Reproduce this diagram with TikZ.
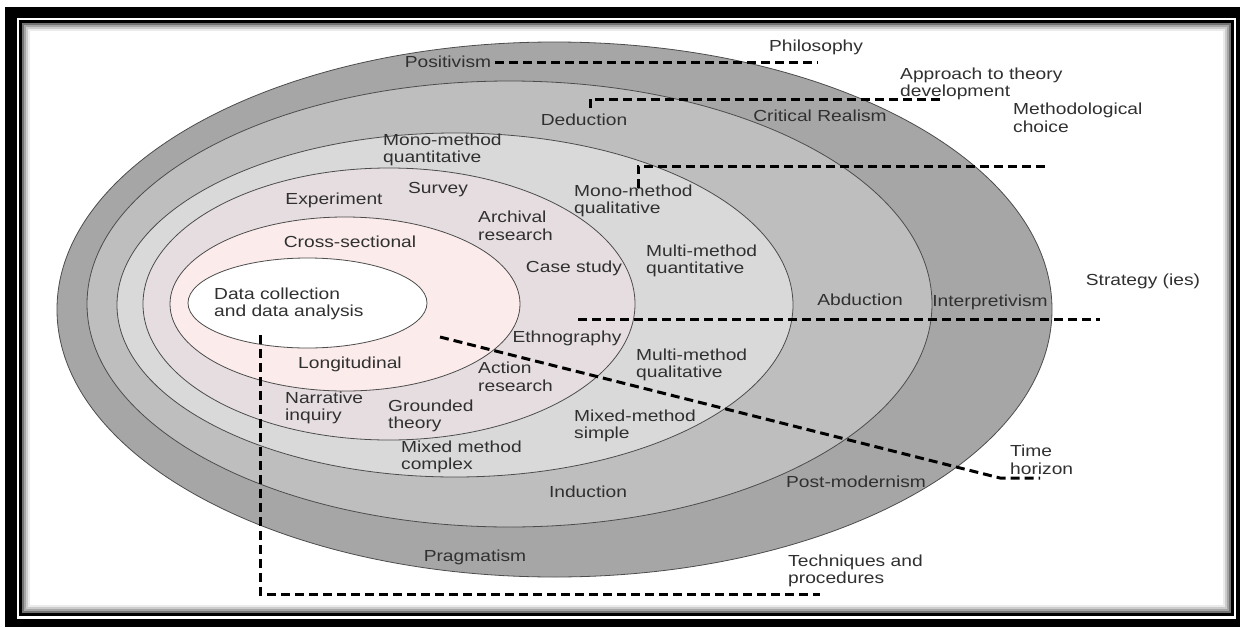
\documentclass[tikz,border=0pt]{standalone}
\usepackage{fontspec}
\setmainfont{Liberation Sans}[FakeStretch=1.2]
\usetikzlibrary{positioning}
\definecolor{philo}{HTML}{A6A6A6}
\definecolor{approach}{HTML}{BEBEBE}
\definecolor{choice}{HTML}{D9D9D9}
\definecolor{strat}{HTML}{E6DDE0}
\definecolor{horizon}{HTML}{FBEBEB}
\definecolor{txt}{HTML}{303030}

\begin{document}
\begin{tikzpicture}[x=1pt, y=-1pt,
    layer/.style={draw=black!70, line width=0.8pt},
    lbl/.style={font=\fontsize{16}{17.5}\selectfont, text=txt, inner sep=0pt, align=left},
    guide/.style={line width=3pt, dash pattern=on 9pt off 5pt}]

  \useasboundingbox (0,0) rectangle (1240,627);

  % frame
  \fill[black] (5,7) rectangle (1240,627);
  \fill[white] (17,18) rectangle (1236,619);
  \foreach \k/\c in {3/8, 2/20, 1/35, 0/55}
    \draw[black!\c, line width=2pt] (23+2*\k,24+2*\k) rectangle (1230-2*\k,612-2*\k);
  \draw[black, line width=3pt] (20.5,21.5) rectangle (1232.5,614.5);

  % onion layers
  \draw[layer, fill=philo]    (554.5,309.5) ellipse [x radius=497.5, y radius=267.5];
  \draw[layer, fill=approach] (509.5,304)   ellipse [x radius=422.5, y radius=223];
  \draw[layer, fill=choice]   (455,305)     ellipse [x radius=338,   y radius=172];
  \draw[layer, fill=strat]    (389,304)     ellipse [x radius=246,   y radius=136];
  \draw[layer, fill=horizon]  (345,304)     ellipse [x radius=175,   y radius=87];
  \draw[layer, fill=white]    (307.5,303)   ellipse [x radius=119.5, y radius=45];

  % labels
  \node[lbl] (positivism) at (448,62) {Positivism};
  \node[lbl] (philosophy) at (816,47) {Philosophy};
  \node[lbl, anchor=west] (approach) at (900,84) {Approach to theory\\development};
  \node[lbl] (deduction) at (584,120) {Deduction};
  \node[lbl] (critical) at (820,116) {Critical Realism};
  \node[lbl, anchor=west] (method) at (1013,118) {Methodological\\choice};
  \node[lbl, anchor=west] (monoquant) at (383,150) {Mono-method\\quantitative};
  \node[lbl] (experiment) at (334,200) {Experiment};
  \node[lbl] (survey) at (438,190) {Survey};
  \node[lbl, anchor=west] (monoqual) at (574,201) {Mono-method\\qualitative};
  \node[lbl, anchor=west] (archival) at (478,226) {Archival\\research};
  \node[lbl] (cross) at (350,242) {Cross-sectional};
  \node[lbl, anchor=west] (multiquant) at (646,261) {Multi-method\\quantitative};
  \node[lbl] (casestudy) at (574,268) {Case study};
  \node[lbl, anchor=west] (data) at (214,304) {Data collection\\and data analysis};
  \node[lbl] (abduction) at (860,300) {Abduction};
  \node[lbl] (interpretivism) at (990,302) {Interpretivism};
  \node[lbl] (strategy) at (1143,281) {Strategy (ies)};
  \node[lbl] (ethnography) at (567,338) {Ethnography};
  \node[lbl] (longitudinal) at (350,364) {Longitudinal};
  \node[lbl, anchor=west] (action) at (478,377) {Action\\research};
  \node[lbl, anchor=west] (multiqual) at (636,365) {Multi-method\\qualitative};
  \node[lbl, anchor=west] (narrative) at (285,408) {Narrative\\inquiry};
  \node[lbl, anchor=west] (grounded) at (388,416) {Grounded\\theory};
  \node[lbl, anchor=west] (mixedsimple) at (574,426) {Mixed-method\\simple};
  \node[lbl, anchor=west] (mixedcomplex) at (401,457) {Mixed method\\complex};
  \node[lbl] (induction) at (588,492) {Induction};
  \node[lbl] (postmodern) at (856,482) {Post-modernism};
  \node[lbl, anchor=west] (time) at (1010,460) {Time\\horizon};
  \node[lbl] (pragmatism) at (475,557) {Pragmatism};
  \node[lbl, anchor=west] (techniques) at (788,571) {Techniques and\\procedures};

  % dashed guides
  \coordinate (phil-end) at (818,62);
  \coordinate (appr-start) at (590,108);
  \coordinate (appr-end) at (940,99);
  \coordinate (meth-start) at (638,188);
  \coordinate (meth-end) at (1048,166);
  \coordinate (strat-start) at (578,319);
  \coordinate (strat-end) at (1100,319);
  \coordinate (time-start) at (440,337);
  \coordinate (time-bend) at (1000,478);
  \coordinate (time-end) at (1040,478);
  \coordinate (tech-start) at (260,335);
  \coordinate (tech-end) at (820,594);

  \draw[guide] ([xshift=4pt]positivism.east) -- (phil-end);
  \draw[guide] (appr-start) |- (appr-end);
  \draw[guide] (meth-start) |- (meth-end);
  \draw[guide] (strat-start) -- (strat-end);
  \draw[guide] (time-start) -- (time-bend) -- (time-end);
  \draw[guide] (tech-start) |- (tech-end);

\end{tikzpicture}
\end{document}
